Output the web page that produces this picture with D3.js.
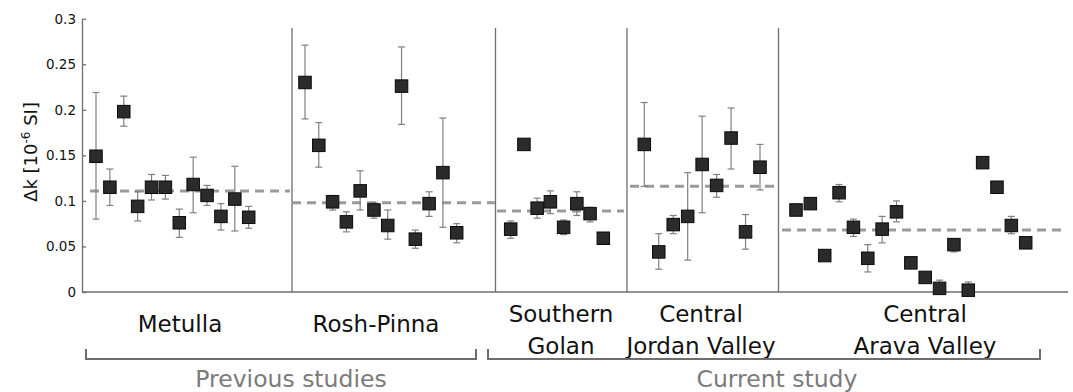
<!DOCTYPE html>
<html>
<head>
<meta charset="utf-8">
<script src="https://cdn.jsdelivr.net/npm/d3@7"></script>
<style>
  body { margin: 0; background: #fff; }
  svg text { font-family: "DejaVu Sans", Verdana, sans-serif; }
</style>
</head>
<body>
<svg id="chart" width="1073" height="392"></svg>
<script>
// values (delta k, 10^-6 SI)
const groupLines = [["Metulla"], ["Rosh-Pinna"], ["Southern", "Golan"], ["Central", "Jordan Valley"], ["Central", "Arava Valley"]]

const metullaK    = [0.149, 0.115, 0.198, 0.094, 0.115, 0.115, 0.076, 0.118, 0.106, 0.083, 0.102, 0.082]
const metullaLow  = [0.080, 0.095, 0.182, 0.078, 0.101, 0.102, 0.060, 0.087, 0.095, 0.068, 0.067, 0.070]
const metullaHigh = [0.219, 0.135, 0.215, 0.110, 0.129, 0.128, 0.091, 0.148, 0.117, 0.097, 0.138, 0.094]

const roshK    = [0.230, 0.161, 0.099, 0.077, 0.111, 0.090, 0.073, 0.226, 0.058, 0.097, 0.131, 0.065]
const roshLow  = [0.190, 0.137, 0.090, 0.066, 0.090, 0.081, 0.058, 0.184, 0.048, 0.083, 0.071, 0.054]
const roshHigh = [0.271, 0.186, 0.106, 0.088, 0.133, 0.098, 0.090, 0.269, 0.068, 0.110, 0.191, 0.075]

const golanK    = [0.069, 0.162, 0.092, 0.099, 0.071, 0.097, 0.086, 0.059]
const golanLow  = [0.059, 0.160, 0.081, 0.086, 0.063, 0.084, 0.077, null]
const golanHigh = [0.078, 0.164, 0.103, 0.111, 0.079, 0.110, 0.093, null]

const jordanK    = [0.162, 0.044, 0.074, 0.083, 0.140, 0.117, 0.169, 0.066, 0.137]
const jordanLow  = [0.116, 0.025, 0.064, 0.035, 0.087, 0.104, 0.135, 0.047, 0.112]
const jordanHigh = [0.208, 0.064, 0.084, 0.131, 0.193, 0.129, 0.202, 0.085, 0.162]

const aravaK    = [0.090, 0.097, 0.040, 0.109, 0.071, 0.037, 0.069, 0.088, 0.032, 0.016, 0.004, 0.052, 0.002, 0.142, 0.115, 0.073, 0.054]
const aravaLow  = [0.088, 0.095, null, 0.099, 0.061, 0.022, 0.054, 0.077, null, null, 0.000, 0.044, 0.000, 0.140, 0.113, 0.064, 0.051]
const aravaHigh = [0.092, 0.099, null, 0.118, 0.080, 0.052, 0.083, 0.100, null, null, 0.013, 0.058, 0.011, 0.144, 0.117, 0.083, 0.057]

const groupMeans = [0.111, 0.098, 0.089, 0.116, 0.068]

const yTicks = [0, 0.05, 0.1, 0.15, 0.2, 0.25, 0.3]
const yTickLabels = ["0", "0.05", "0.1", "0.15", "0.2", "0.25", "0.3"]

const studyNames = ["Previous studies", "Current study"]

// layout (pixels)
const pointRanges = [[96, 248.7], [305, 456.7], [510.7, 603.3], [644.3, 760], [796, 1025.7]]
const meanRanges  = [[90, 290], [292, 495], [497, 624], [630, 775], [782, 1063]]
const dividers    = [292, 495.5, 627, 778.5]
const labelCenters = [180, 376, 561, 701, 925]
const bracketRanges = [[86, 476], [488, 1040]]
const studyCenters = [291, 777]

const groups = [
    {k: metullaK, lo: metullaLow, hi: metullaHigh},
    {k: roshK, lo: roshLow, hi: roshHigh},
    {k: golanK, lo: golanLow, hi: golanHigh},
    {k: jordanK, lo: jordanLow, hi: jordanHigh},
    {k: aravaK, lo: aravaLow, hi: aravaHigh}
]

const svg = d3.select('#chart')
const axisColor = '#6e6e6e'
const left = 82, right = 1068, bottom = 292

const y = d3.scaleLinear().domain([0, 0.3]).range([bottom, 18.7])

// y axis, ticks pointing inward
const yAxis = svg.append('g')
    .attr('transform', 'translate(' + left + ',0)')
    .call(d3.axisLeft(y)
        .tickValues(yTicks)
        .tickFormat((d, i) => yTickLabels[i])
        .tickSizeInner(-4)
        .tickSizeOuter(0)
        .tickPadding(6))
yAxis.select('.domain').attr('stroke', axisColor).attr('stroke-width', 1.3)
yAxis.selectAll('.tick line').attr('stroke', axisColor).attr('stroke-width', 1.3)
yAxis.selectAll('.tick text')
    .style('font-family', '"DejaVu Sans", sans-serif')
    .style('font-size', '13.5px')
    .attr('fill', '#111')

// bottom line
svg.append('line')
    .attr('x1', left).attr('x2', right)
    .attr('y1', bottom).attr('y2', bottom)
    .attr('stroke', axisColor).attr('stroke-width', 1.3)

// region dividers
svg.selectAll('.divider')
    .data(dividers)
    .enter()
    .append('line')
    .attr('class', 'divider')
    .attr('x1', d => d).attr('x2', d => d)
    .attr('y1', 28).attr('y2', bottom)
    .attr('stroke', axisColor).attr('stroke-width', 1.3)

// y label
svg.append('text')
    .attr('transform', 'translate(37,152) rotate(-90)')
    .attr('text-anchor', 'middle')
    .style('font-size', '18px')
    .attr('fill', '#111')
    .html('Δk [10<tspan dy="-7" font-size="12px">-6</tspan><tspan dy="7"> SI]</tspan>')

// mean dashed lines
svg.selectAll('.mean-line')
    .data(groupMeans)
    .enter()
    .append('line')
    .attr('class', 'mean-line')
    .attr('x1', (d, i) => meanRanges[i][0])
    .attr('x2', (d, i) => meanRanges[i][1])
    .attr('y1', d => y(d)).attr('y2', d => y(d))
    .attr('stroke', '#9a9a9a')
    .attr('stroke-width', 3)
    .attr('stroke-dasharray', '9,6')

// points with error bars
groups.forEach(function(g, gi){
    const x = d3.scalePoint()
        .domain(d3.range(g.k.length))
        .range(pointRanges[gi])

    const rows = g.k.map((v, i) => ({i: i, k: v, lo: g.lo[i], hi: g.hi[i]}))
    const withErr = rows.filter(d => d.lo != null)

    const gg = svg.append('g').attr('class', 'group-' + gi)

    gg.selectAll('.err')
        .data(withErr)
        .enter()
        .append('line')
        .attr('class', 'err')
        .attr('x1', d => x(d.i)).attr('x2', d => x(d.i))
        .attr('y1', d => y(d.lo)).attr('y2', d => y(d.hi))
        .attr('stroke', '#808080').attr('stroke-width', 1.2)

    const caps = withErr.flatMap(d => [{i: d.i, v: d.lo}, {i: d.i, v: d.hi}])
    gg.selectAll('.cap')
        .data(caps)
        .enter()
        .append('line')
        .attr('class', 'cap')
        .attr('x1', d => x(d.i) - 3.5).attr('x2', d => x(d.i) + 3.5)
        .attr('y1', d => y(d.v)).attr('y2', d => y(d.v))
        .attr('stroke', '#808080').attr('stroke-width', 1.2)

    const s = 12.5
    gg.selectAll('.pt')
        .data(rows)
        .enter()
        .append('rect')
        .attr('class', 'pt')
        .attr('x', d => x(d.i) - s / 2)
        .attr('y', d => y(d.k) - s / 2)
        .attr('width', s).attr('height', s)
        .attr('fill', '#2b2b2b')
        .attr('stroke', '#0a0a0a').attr('stroke-width', 1)
})

// group labels
groupLines.forEach(function(lines, i){
    const baselines = lines.length == 1 ? [332] : [322, 354]
    lines.forEach(function(t, j){
        svg.append('text')
            .attr('x', labelCenters[i])
            .attr('y', baselines[j])
            .attr('text-anchor', 'middle')
            .style('font-size', '23px')
            .attr('fill', '#111')
            .text(t)
    })
})

// study brackets
bracketRanges.forEach(function(r, i){
    svg.append('path')
        .attr('d', 'M' + r[0] + ',349V359H' + r[1] + 'V349')
        .attr('fill', 'none')
        .attr('stroke', '#6e6e6e')
        .attr('stroke-width', 2)

    svg.append('text')
        .attr('x', studyCenters[i])
        .attr('y', 387)
        .attr('text-anchor', 'middle')
        .style('font-size', '23.5px')
        .attr('fill', '#7a7a7a')
        .text(studyNames[i])
})
</script>
</body>
</html>
